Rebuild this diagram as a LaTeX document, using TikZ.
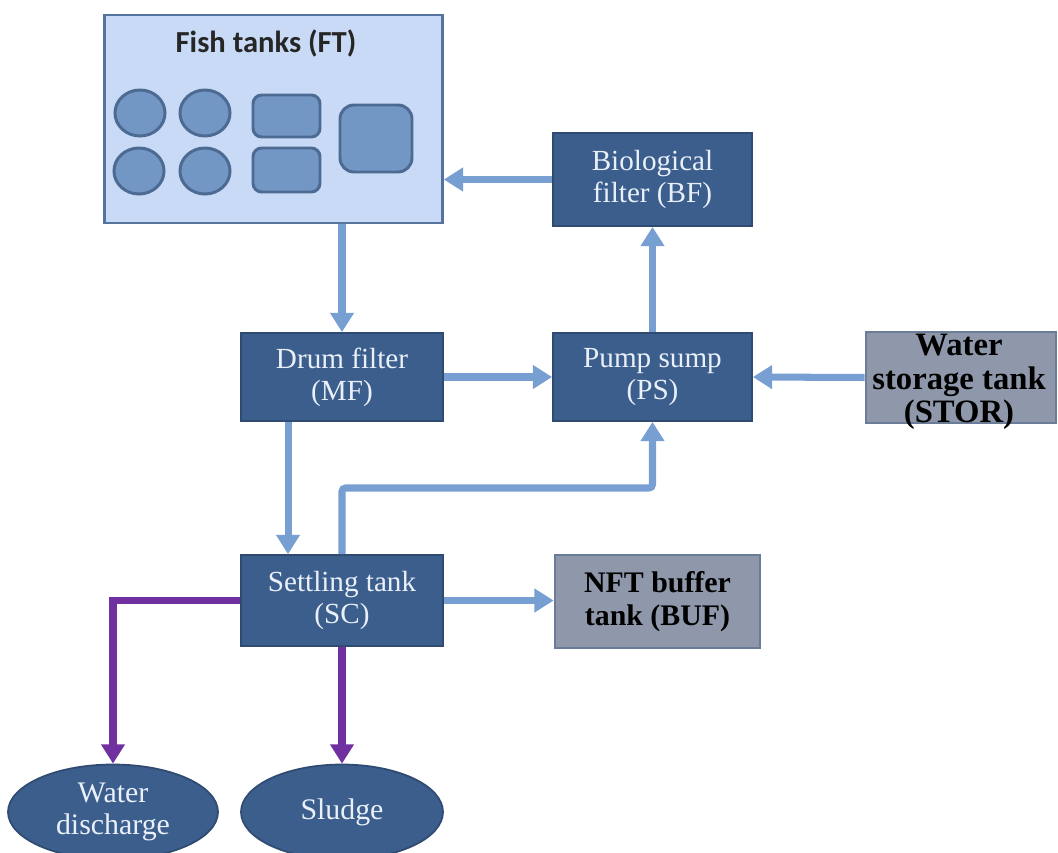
\documentclass[tikz,border=0pt]{standalone}
\usepackage{fontspec}
\setmainfont{Liberation Serif}
\newfontfamily\calfont{Carlito}
\usepackage{tikz}
\usetikzlibrary{positioning,arrows.meta,shapes.geometric}

\definecolor{boxblue}{HTML}{3C5E8C}
\definecolor{boxedge}{HTML}{2F4B72}
\definecolor{flowblue}{HTML}{779FD2}
\definecolor{ftfill}{HTML}{C8DAF6}
\definecolor{ftedge}{HTML}{56739D}
\definecolor{tankfill}{HTML}{7397C4}
\definecolor{tankedge}{HTML}{4D6A92}
\definecolor{greybox}{HTML}{8F98AA}
\definecolor{greyedge}{HTML}{6B7C98}
\definecolor{outpurple}{HTML}{7030A0}
\definecolor{paletext}{HTML}{EAF0FA}

\tikzset{
  unitbox/.style={rectangle,fill=boxblue,draw=boxedge,line width=1pt,
    text=paletext,align=center,inner sep=0pt,
    font=\fontsize{16.6}{18.2}\selectfont},
  bufbox/.style={rectangle,fill=greybox,draw=greyedge,line width=1.5pt,
    text=black,align=center,inner sep=0pt,
    font=\bfseries\fontsize{17}{18.6}\selectfont},
  outlet/.style={ellipse,fill=boxblue,draw=boxedge,line width=1pt,
    text=paletext,align=center,inner sep=0pt,
    font=\fontsize{17}{18.6}\selectfont},
  flow/.style={draw=flowblue,line width=4pt,
    -{Triangle[length=11pt,width=13pt]}},
  waste/.style={draw=outpurple,line width=4pt,
    -{Triangle[length=11pt,width=13pt]}},
  tank/.style={fill=tankfill,draw=tankedge,line width=1.7pt}
}

\begin{document}
\begin{tikzpicture}[x=0.02cm,y=-0.02cm]
\useasboundingbox (0,0) rectangle (1058,852);
% fish tank hall
\node[rectangle,fill=ftfill,draw=ftedge,line width=1.5pt,
  minimum width=6.76cm,minimum height=4.16cm] (ft) at (273.5,119) {};
\node[font=\calfont\bfseries\fontsize{17.4}{19}\selectfont,text=black!85] (fttitle) at (266,43) {Fish tanks (FT)};
\foreach \cx/\cy in {140/113,205/113,139/171,205/171}
  {\draw[tank] (\cx,\cy) ellipse (25 and 23);}
\draw[tank,rounded corners=5pt] (253,95) rectangle (320,137);
\draw[tank,rounded corners=5pt] (253,148) rectangle (320,192);
\draw[tank,rounded corners=8pt] (340,105) rectangle (412,172);
% treatment units
\node[unitbox,minimum width=3.98cm,minimum height=1.86cm] (bf) at (652.5,179.5) {Biological\\filter (BF)};
\node[unitbox,minimum width=4.04cm,minimum height=1.76cm] (mf) at (342,377) {Drum filter\\(MF)};
\node[unitbox,minimum width=3.98cm,minimum height=1.76cm] (ps) at (652.5,377) {Pump sump\\(PS)};
\node[unitbox,minimum width=4.04cm,minimum height=1.82cm] (sc) at (342,600.5) {Settling tank\\(SC)};
\node[bufbox,minimum width=3.8cm,minimum height=1.82cm] (stor) at (961,377.5) {};
\node[font=\bfseries\fontsize{18.6}{19}\selectfont,align=center,inner sep=0pt] (stortext) at (959,382) {Water\\storage tank\\(STOR)};
\node[bufbox,minimum width=4.1cm,minimum height=1.86cm] (buf) at (657.5,601.5) {NFT buffer\\tank (BUF)};
% outlets
\node[outlet,minimum width=4.2cm,minimum height=1.9cm] (water) at (113,812) {Water\\discharge};
\node[outlet,minimum width=4.04cm,minimum height=1.9cm] (sludge) at (342,812) {Sludge};
% water loop
\draw[flow] (bf.west) -- (bf.west -| ft.east);
\draw[flow] (ft.south -| mf.north) -- (mf.north);
\draw[flow] (mf.east) -- (ps.west);
\draw[flow] (ps.north) -- (bf.south);
\draw[flow] (stor.west) -- (ps.east);
\draw[flow] ([xshift=-1.08cm]mf.south) -- ([xshift=-1.08cm]sc.north);
\coordinate (psturn) at (652.5,488);
\draw[flow,rounded corners=2pt] (sc.north) |- (psturn) -- (ps.south);
\draw[flow] (sc.east) -- (sc.east -| buf.west);
% waste streams
\draw[waste] (sc.west) -| (water.north);
\draw[waste] (sc.south) -- (sludge.north);
\end{tikzpicture}
\end{document}
